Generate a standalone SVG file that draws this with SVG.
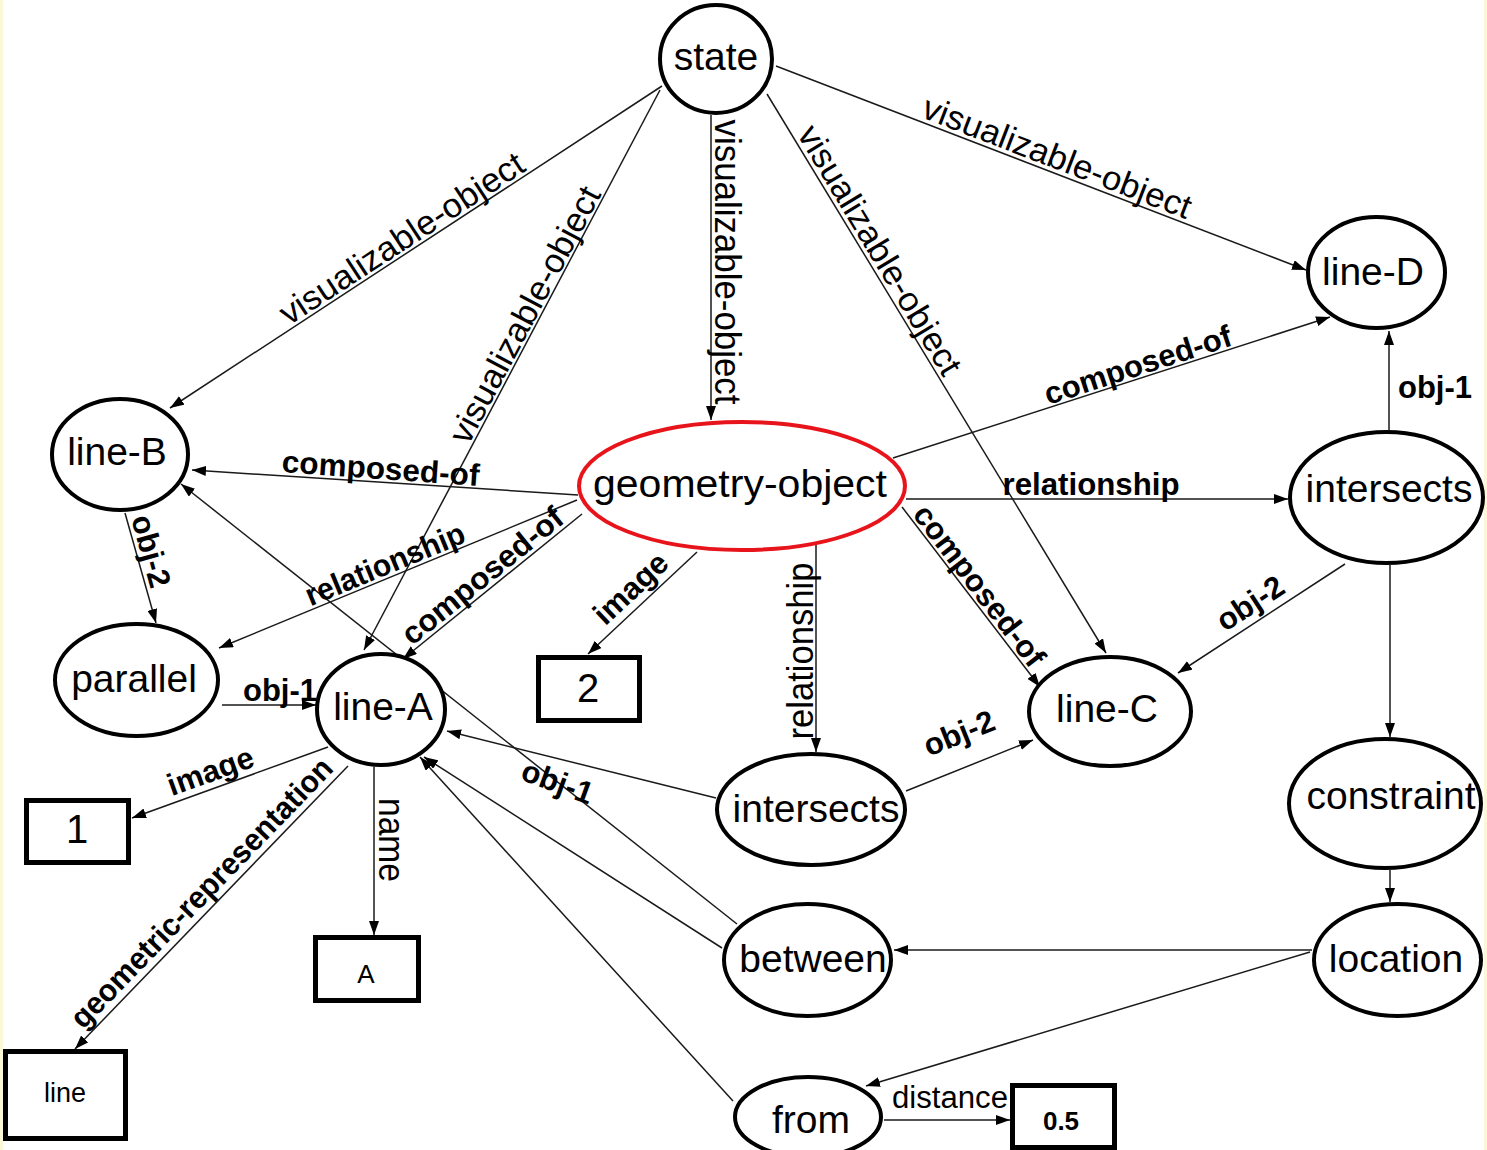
<svg xmlns="http://www.w3.org/2000/svg" width="1487" height="1150" viewBox="0 0 1487 1150">
  <style>
    .node { fill: #ffffff; stroke: #000000; stroke-width: 4; }
    .focus { fill: #ffffff; stroke: #e8141b; stroke-width: 4; }
    .box { fill: #ffffff; stroke: #000000; stroke-width: 5; }
    .nlabel { font-family: "Liberation Sans", Arial, sans-serif; font-size: 39px; fill: #000; text-anchor: middle; }
    .blabel { font-family: "Liberation Sans", Arial, sans-serif; fill: #000; text-anchor: middle; }
    .edge { stroke: #1a1a1a; stroke-width: 1.5; fill: none; marker-end: url(#arrow); }
    .elabel { font-family: "Liberation Sans", Arial, sans-serif; font-size: 31px; fill: #000; text-anchor: middle; }
    .bold { font-weight: bold; }
    .vis { font-size: 34px; }
    .tall { font-size: 36px; }
  </style>
  <defs>
    <marker id="arrow" markerWidth="14" markerHeight="10" refX="14" refY="5" orient="auto" markerUnits="userSpaceOnUse">
      <path d="M0,0 L14,5 L0,10 z" fill="#000"/>
    </marker>
  </defs>

  <!-- page background with thin tinted margins -->
  <rect x="0" y="0" width="1487" height="1150" fill="#fbf8d8"/>
  <rect x="3" y="0" width="1481" height="1150" fill="#ffffff"/>

  <!-- connectors -->
  <g id="connectors">
    <line class="edge" x1="662" y1="86" x2="170" y2="408"/>
    <line class="edge" x1="660" y1="90" x2="364" y2="650"/>
    <line class="edge" x1="711" y1="115" x2="711" y2="420"/>
    <line class="edge" x1="767" y1="94" x2="1106" y2="653"/>
    <line class="edge" x1="776" y1="66" x2="1306" y2="270"/>
    <line class="edge" x1="578" y1="495" x2="192" y2="470"/>
    <line class="edge" x1="582" y1="514" x2="403" y2="659"/>
    <line class="edge" x1="577" y1="500" x2="219" y2="648"/>
    <line class="edge" x1="893" y1="458" x2="1330" y2="317"/>
    <line class="edge" x1="906" y1="499" x2="1288" y2="499"/>
    <line class="edge" x1="902" y1="507" x2="1040" y2="687"/>
    <line class="edge" x1="816" y1="543" x2="816" y2="752"/>
    <line class="edge" x1="697" y1="552" x2="588" y2="654"/>
    <line class="edge" x1="1389" y1="430" x2="1389" y2="331"/>
    <line class="edge" x1="1345" y1="564" x2="1178" y2="673"/>
    <line class="edge" x1="1390" y1="565" x2="1390" y2="737"/>
    <line class="edge" x1="1390" y1="870" x2="1390" y2="902"/>
    <line class="edge" x1="1312" y1="950" x2="894" y2="950"/>
    <line class="edge" x1="1310" y1="952" x2="866" y2="1086"/>
    <line class="edge" x1="884" y1="1120" x2="1010" y2="1120"/>
    <line class="edge" x1="125" y1="513" x2="156" y2="623"/>
    <line class="edge" x1="222" y1="705" x2="316" y2="705"/>
    <line class="edge" x1="328" y1="747" x2="132" y2="818"/>
    <line class="edge" x1="348" y1="766" x2="75" y2="1049"/>
    <line class="edge" x1="374" y1="767" x2="374" y2="935"/>
    <line class="edge" x1="716" y1="798" x2="447" y2="731"/>
    <line class="edge" x1="737" y1="924" x2="181" y2="484"/>
    <line class="edge" x1="722" y1="948" x2="424" y2="757"/>
    <line class="edge" x1="733" y1="1101" x2="420" y2="757"/>
    <line class="edge" x1="906" y1="791" x2="1033" y2="740"/>

    <!-- connector labels -->
    <text class="elabel vis" x="408" y="248" textLength="285" lengthAdjust="spacingAndGlyphs" transform="rotate(-33.2 408 248)">visualizable-object</text>
    <text class="elabel vis" x="535" y="320" textLength="285" lengthAdjust="spacingAndGlyphs" transform="rotate(-62.1 535 320)">visualizable-object</text>
    <text class="elabel tall" x="715" y="262" textLength="285" lengthAdjust="spacingAndGlyphs" transform="rotate(90 715 262)">visualizable-object</text>
    <text class="elabel vis" x="870" y="256" textLength="285" lengthAdjust="spacingAndGlyphs" transform="rotate(58.9 870 256)">visualizable-object</text>
    <text class="elabel vis" x="1053" y="168" textLength="285" lengthAdjust="spacingAndGlyphs" transform="rotate(21.05 1053 168)">visualizable-object</text>
    <text class="elabel bold" x="380" y="479" textLength="198" lengthAdjust="spacingAndGlyphs" transform="rotate(4 380 479)">composed-of</text>
    <text class="elabel bold" x="489" y="584" textLength="198" lengthAdjust="spacingAndGlyphs" transform="rotate(-39 489 584)">composed-of</text>
    <text class="elabel bold" x="389" y="574" textLength="170" lengthAdjust="spacingAndGlyphs" transform="rotate(-22.5 389 574)">relationship</text>
    <text class="elabel bold" x="1141" y="375" textLength="195" lengthAdjust="spacingAndGlyphs" transform="rotate(-17.9 1141 375)">composed-of</text>
    <text class="elabel bold" x="1091" y="495" textLength="177" lengthAdjust="spacingAndGlyphs">relationship</text>
    <text class="elabel bold" x="971" y="592" textLength="195" lengthAdjust="spacingAndGlyphs" transform="rotate(52.5 971 592)">composed-of</text>
    <text class="elabel tall" x="813" y="651" textLength="177" lengthAdjust="spacingAndGlyphs" transform="rotate(-90 813 651)">relationship</text>
    <text class="elabel bold" x="638" y="596" transform="rotate(-43.1 638 596)">image</text>
    <text class="elabel bold" x="1398" y="398" style="text-anchor:start">obj-1</text>
    <text class="elabel bold" x="1256" y="612" transform="rotate(-33.1 1256 612)">obj-2</text>
    <text class="elabel" x="950" y="1108" textLength="116" lengthAdjust="spacingAndGlyphs">distance</text>
    <text class="elabel bold" x="141" y="554" transform="rotate(74.3 141 554)">obj-2</text>
    <text class="elabel bold" x="243" y="701" style="text-anchor:start">obj-1</text>
    <text class="elabel bold" x="214" y="781" transform="rotate(-19.9 214 781)">image</text>
    <text class="elabel bold" x="209" y="900" textLength="362" lengthAdjust="spacingAndGlyphs" transform="rotate(-46 209 900)">geometric-representation</text>
    <text class="elabel tall" x="379" y="840" textLength="84" lengthAdjust="spacingAndGlyphs" transform="rotate(90 379 840)">name</text>
    <text class="elabel bold" x="554" y="792" transform="rotate(20 554 792)">obj-1</text>
    <text class="elabel bold" x="963" y="743" transform="rotate(-21.9 963 743)">obj-2</text>
  </g>

  <!-- nodes -->
  <g id="state"><ellipse class="node" cx="716" cy="59" rx="56" ry="54"/><text class="nlabel" x="716" y="70">state</text></g>
  <g id="line-D"><ellipse class="node" cx="1376.5" cy="272.5" rx="68.5" ry="55.5"/><text class="nlabel" x="1373" y="285">line-D</text></g>
  <g id="line-B"><ellipse class="node" cx="120" cy="454.5" rx="68" ry="55.5"/><text class="nlabel" x="117" y="465">line-B</text></g>
  <g id="geometry-object"><ellipse class="focus" cx="742" cy="486" rx="163" ry="64"/><text class="nlabel" x="740" y="497" textLength="294" lengthAdjust="spacingAndGlyphs">geometry-object</text></g>
  <g id="intersects-1"><ellipse class="node" cx="1386.5" cy="497.5" rx="96.5" ry="65.5"/><text class="nlabel" x="1389" y="502">intersects</text></g>
  <g id="parallel"><ellipse class="node" cx="136.5" cy="680" rx="81.5" ry="56"/><text class="nlabel" x="134" y="692">parallel</text></g>
  <g id="line-A"><ellipse class="node" cx="381" cy="709.5" rx="64" ry="55.5"/><text class="nlabel" x="383" y="720">line-A</text></g>
  <g id="line-C"><ellipse class="node" cx="1110" cy="711.5" rx="81" ry="54.5"/><text class="nlabel" x="1107" y="722">line-C</text></g>
  <g id="intersects-2"><ellipse class="node" cx="811" cy="809.5" rx="94" ry="55.5"/><text class="nlabel" x="816" y="822">intersects</text></g>
  <g id="constraint"><ellipse class="node" cx="1385" cy="803.5" rx="96" ry="64.5"/><text class="nlabel" x="1391" y="809">constraint</text></g>
  <g id="location"><ellipse class="node" cx="1397.5" cy="960" rx="83.5" ry="56"/><text class="nlabel" x="1396" y="972">location</text></g>
  <g id="between"><ellipse class="node" cx="807.5" cy="960" rx="83.5" ry="56"/><text class="nlabel" x="813" y="972">between</text></g>
  <g id="from"><ellipse class="node" cx="808" cy="1117" rx="73" ry="40"/><text class="nlabel" x="811" y="1133">from</text></g>

  <!-- value boxes -->
  <g id="value-2"><rect class="box" x="538.5" y="657.5" width="101" height="63"/><text class="blabel" x="588" y="702" font-size="40">2</text></g>
  <g id="value-1"><rect class="box" x="26.5" y="800.5" width="102" height="62"/><text class="blabel" x="77" y="843" font-size="40">1</text></g>
  <g id="value-A"><rect class="box" x="315.5" y="937.5" width="103" height="63"/><text class="blabel" x="366" y="983" font-size="26">A</text></g>
  <g id="value-line"><rect class="box" x="5.5" y="1051.5" width="120" height="87"/><text class="blabel" x="65" y="1102" font-size="27">line</text></g>
  <g id="value-0.5"><rect class="box" x="1012.5" y="1085.5" width="102" height="62"/><text class="blabel" x="1061" y="1130" font-size="26" font-weight="bold">0.5</text></g>
</svg>
